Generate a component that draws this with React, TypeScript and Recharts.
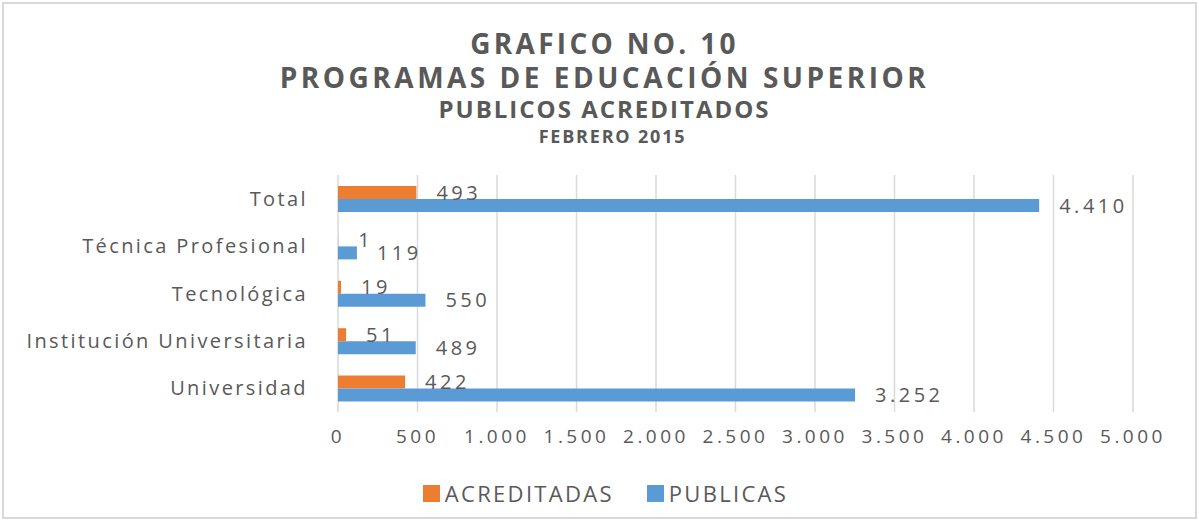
import React from "react";
import {
  BarChart,
  Bar,
  XAxis,
  YAxis,
  CartesianGrid,
  Legend,
  LabelList,
} from "recharts";

const categories = [
  "Total",
  "Técnica Profesional",
  "Tecnológica",
  "Institución Universitaria",
  "Universidad",
];
const acreditadas = [493, 1, 19, 51, 422];
const publicas = [4410, 119, 550, 489, 3252];
const xTicks = [0, 500, 1000, 1500, 2000, 2500, 3000, 3500, 4000, 4500, 5000];

const data = categories.map((name, i) => ({
  name,
  ACREDITADAS: acreditadas[i],
  PUBLICAS: publicas[i],
}));

const TEXT = "#595959";
const ORANGE = "#ED7D31";
const BLUE = "#5B9BD5";
const FONT = "'Open Sans', sans-serif";

// miles con punto, como en el original
const fmt = (v: any) =>
  String(v).replace(/\B(?=(\d{3})+(?!\d))/g, ".");

const titleStyle = (top: number, size: number, spacing: number, left = 0) =>
  ({
    position: "absolute",
    left,
    width: 1209,
    top,
    textAlign: "center",
    fontFamily: FONT,
    fontWeight: 700,
    fontSize: size,
    letterSpacing: spacing,
    color: TEXT,
    lineHeight: 1,
    whiteSpace: "nowrap",
  }) as React.CSSProperties;

function LegendContent({ payload }: any) {
  return (
    <div style={{ textAlign: "center", paddingLeft: 12 }}>
      {(payload || []).map((p: any, i: number) => (
        <span
          key={p.value}
          style={{
            display: "inline-flex",
            alignItems: "center",
            marginRight: i === 0 ? 33 : 0,
          }}
        >
          <span
            style={{
              display: "inline-block",
              width: 17,
              height: 17,
              background: p.color,
              marginRight: 5,
            }}
          />
          <span
            style={{
              fontFamily: FONT,
              fontSize: 22,
              letterSpacing: 2.3,
              color: TEXT,
            }}
          >
            {p.value}
          </span>
        </span>
      ))}
    </div>
  );
}

export default function App() {
  return (
    <div
      style={{
        position: "absolute",
        left: 0,
        top: 0,
        width: 1199,
        height: 521,
        background: "#fff",
        overflow: "hidden",
      }}
    >
      <div
        style={{
          position: "absolute",
          left: 2,
          top: 2,
          width: 1191,
          height: 513,
          border: "2px solid #D9D9D9",
        }}
      />
      <div style={titleStyle(29, 28, 3.3)}>GRAFICO NO. 10</div>
      <div style={titleStyle(63, 28, 3.5)}>PROGRAMAS DE EDUCACIÓN SUPERIOR</div>
      <div style={titleStyle(97, 24, 2)}>PUBLICOS ACREDITADOS</div>
      <div style={titleStyle(127, 18, 1.8, 8)}>FEBRERO 2015</div>
      <BarChart
        width={1199}
        height={521}
        data={data}
        layout="vertical"
        margin={{ top: 175, right: 66, bottom: 69, left: 0 }}
        barSize={13}
        barGap={0}
      >
        <CartesianGrid horizontal={false} stroke="#D9D9D9" strokeWidth={1.5} />
        <XAxis
          type="number"
          domain={[0, 5000]}
          ticks={xTicks}
          tickFormatter={fmt}
          axisLine={false}
          tickLine={false}
          tickSize={0}
          tickMargin={18}
          height={40}
          interval={0}
          tick={{
            fill: TEXT,
            fontSize: 19,
            fontFamily: FONT,
            letterSpacing: 3.5,
          }}
        />
        <YAxis
          type="category"
          dataKey="name"
          width={338}
          axisLine={false}
          tickLine={false}
          tickSize={0}
          tickMargin={30}
          interval={0}
          tick={{
            fill: TEXT,
            fontSize: 20,
            fontFamily: FONT,
            letterSpacing: 2.4,
          }}
        />
        <Legend
          layout="horizontal"
          verticalAlign="middle"
          align="center"
          content={<LegendContent />}
          wrapperStyle={{ top: 478, left: 0, width: 1199 }}
        />
        <Bar dataKey="ACREDITADAS" fill={ORANGE} isAnimationActive={false}>
          <LabelList
            dataKey="ACREDITADAS"
            position="right"
            offset={20}
            formatter={fmt}
            style={{
              fill: TEXT,
              fontSize: 20,
              fontFamily: FONT,
              letterSpacing: 3.5,
            }}
          />
        </Bar>
        <Bar dataKey="PUBLICAS" fill={BLUE} isAnimationActive={false}>
          <LabelList
            dataKey="PUBLICAS"
            position="right"
            offset={20}
            formatter={fmt}
            style={{
              fill: TEXT,
              fontSize: 20,
              fontFamily: FONT,
              letterSpacing: 3.5,
            }}
          />
        </Bar>
      </BarChart>
    </div>
  );
}
